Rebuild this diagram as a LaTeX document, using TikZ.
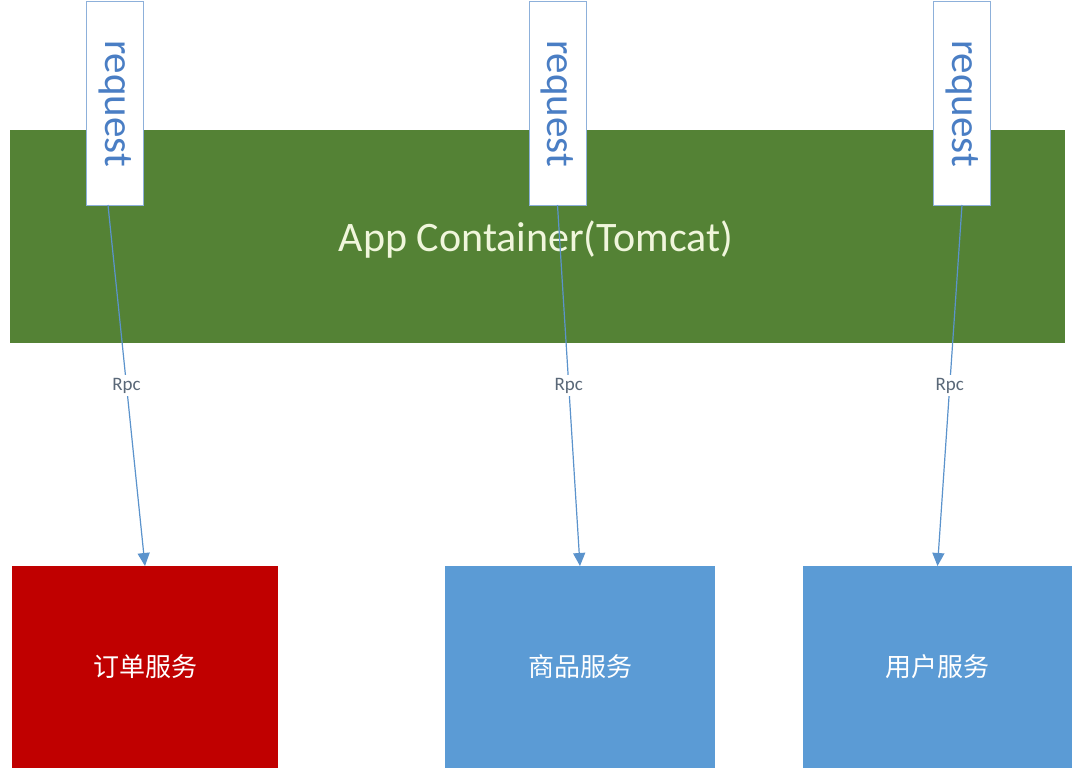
\documentclass[tikz,border=0pt]{standalone}
\usepackage{fontspec}
\setmainfont{Carlito}
\newfontfamily\cjk{Noto Sans CJK SC}
\usetikzlibrary{arrows.meta,calc}
\definecolor{cgreen}{HTML}{548235}
\definecolor{cred}{HTML}{C00000}
\definecolor{cblue}{HTML}{5B9BD5}
\definecolor{cline}{HTML}{5B93CC}
\definecolor{creqtext}{HTML}{4A7EC4}
\definecolor{creqborder}{HTML}{8DB0DA}
\definecolor{capptext}{HTML}{F0F6DC}
\definecolor{crpc}{HTML}{5A6878}
\tikzset{
  container/.style={fill=cgreen, draw=none, inner sep=0pt, outer sep=0pt,
    minimum width=1055pt, minimum height=213pt},
  apptext/.style={text=capptext, font=\fontsize{42}{46}\selectfont},
  reqbox/.style={fill=white, draw=creqborder, line width=1pt, inner sep=0pt, outer sep=0pt,
    minimum width=57pt, minimum height=203pt, text=creqtext,
    font=\fontsize{41}{45}\selectfont},
  svcbox/.style={draw=none, inner sep=0pt, outer sep=0pt, minimum height=202pt,
    text=white, font=\cjk\fontsize{26}{30}\selectfont},
  conn/.style={draw=cline, line width=1.2pt, -{Triangle[length=13pt,width=12pt]}},
  rpc/.style={fill=white, text=crpc, inner sep=3pt, font=\fontsize{19}{22}\selectfont}
}
\begin{document}
\begin{tikzpicture}[x=1pt,y=-1pt]
\useasboundingbox (0,0) rectangle (1084,784);
\fill[white] (0,0) rectangle (1084,784);
\node[container] (app) at (537.5,236.5) {};
\node[apptext] (apptxt) at (536,240) {App Container(Tomcat)};
\node[reqbox] (r1) at (115,103.5) {\rotatebox{-90}{request}};
\node[reqbox] (r2) at (557.5,103.5) {\rotatebox{-90}{request}};
\node[reqbox] (r3) at (962,103.5) {\rotatebox{-90}{request}};
\node[svcbox, fill=cred, minimum width=266pt] (s1) at (145,667) {订单服务};
\node[svcbox, fill=cblue, minimum width=270pt] (s2) at (580,667) {商品服务};
\node[svcbox, fill=cblue, minimum width=269pt] (s3) at (937.5,667) {用户服务};
\coordinate (a1) at ($(r1.south)+(-7,0)$);
\coordinate (a2) at (r2.south);
\coordinate (a3) at (r3.south);
\draw[conn] (a1) -- node[rpc]{Rpc} (s1.north);
\draw[conn] (a2) -- node[rpc]{Rpc} (s2.north);
\draw[conn] (a3) -- node[rpc]{Rpc} (s3.north);
\end{tikzpicture}
\end{document}
